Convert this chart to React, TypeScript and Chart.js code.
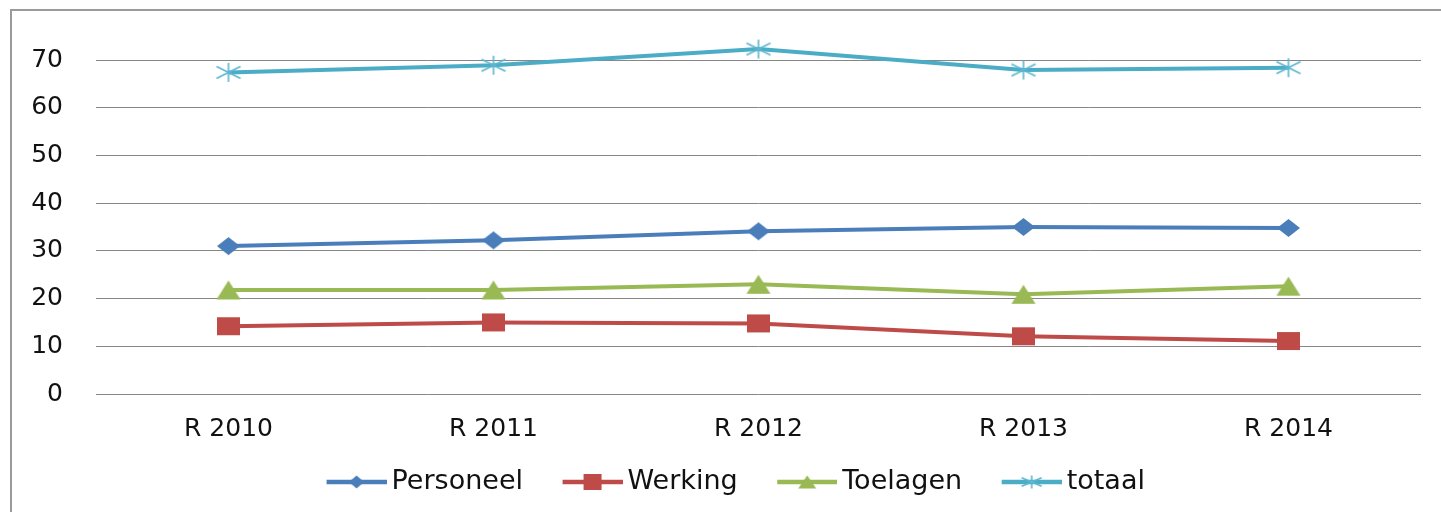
import React, { useEffect, useRef } from 'react';
import { Chart, registerables } from 'chart.js';

Chart.register(...registerables);

const categories = ['R 2010', 'R 2011', 'R 2012', 'R 2013', 'R 2014'];
const personeel = [31.0, 32.2, 34.1, 35.0, 34.8];
const werking = [14.2, 15.0, 14.8, 12.1, 11.1];
const toelagen = [21.8, 21.8, 23.0, 20.9, 22.6];
const totaal = [67.4, 68.9, 72.3, 67.9, 68.4];
const yTickValues = [0, 10, 20, 30, 40, 50, 60, 70];
const seriesNames = ['Personeel', 'Werking', 'Toelagen', 'totaal'];

const FONT = '"DejaVu Sans", "Liberation Sans", Arial, sans-serif';

type Kind = 'diamond' | 'square' | 'triangle' | 'asterisk';

function drawShape(ctx: CanvasRenderingContext2D, kind: Kind, color: string, cx: number, cy: number, w: number, h: number) {
  const x = cx - w / 2;
  const y = cy - h / 2;
  ctx.fillStyle = color;
  ctx.strokeStyle = color;
  ctx.beginPath();
  if (kind === 'diamond') {
    ctx.moveTo(x, cy);
    ctx.lineTo(cx, y);
    ctx.lineTo(x + w, cy);
    ctx.lineTo(cx, y + h);
    ctx.closePath();
    ctx.fill();
  } else if (kind === 'square') {
    ctx.rect(x, y, w, h);
    ctx.fill();
  } else if (kind === 'triangle') {
    ctx.moveTo(cx, y);
    ctx.lineTo(x + w, y + h);
    ctx.lineTo(x, y + h);
    ctx.closePath();
    ctx.fill();
  } else {
    ctx.lineWidth = 1.6;
    ctx.moveTo(cx, y);
    ctx.lineTo(cx, y + h);
    ctx.moveTo(x, y + h * 0.18);
    ctx.lineTo(x + w, y + h * 0.82);
    ctx.moveTo(x, y + h * 0.82);
    ctx.lineTo(x + w, y + h * 0.18);
    ctx.stroke();
  }
}

function markerCanvas(kind: Kind, color: string, w: number, h: number) {
  const c = document.createElement('canvas');
  c.width = Math.ceil(w) + 2;
  c.height = Math.ceil(h) + 2;
  const ctx = c.getContext('2d')!;
  drawShape(ctx, kind, color, c.width / 2, c.height / 2, w, h);
  return c;
}

// legend icon: transparent left margin (item spacing) + 60px line with marker
const LEGEND_ICON_W = 98;
const LEGEND_LINE_START = 38;
function legendCanvas(kind: Kind, color: string, markColor: string, w: number, h: number) {
  const c = document.createElement('canvas');
  c.width = LEGEND_ICON_W;
  c.height = 22;
  const ctx = c.getContext('2d')!;
  ctx.strokeStyle = color;
  ctx.lineWidth = 4.5;
  ctx.beginPath();
  ctx.moveTo(LEGEND_LINE_START, 11);
  ctx.lineTo(LEGEND_ICON_W, 11);
  ctx.stroke();
  drawShape(ctx, kind, markColor, (LEGEND_LINE_START + LEGEND_ICON_W) / 2, 11, w, h);
  return c;
}

const frame = {
  id: 'frame',
  beforeDraw(chart: any) {
    const ctx = chart.ctx;
    ctx.save();
    ctx.fillStyle = '#ffffff';
    ctx.fillRect(0, 0, chart.width, chart.height);
    ctx.strokeStyle = '#9a9a9a';
    ctx.lineWidth = 2;
    ctx.strokeRect(11, 10, chart.width + 40, chart.height + 40);
    ctx.restore();
  },
};

export default function App() {
  const ref = useRef<HTMLCanvasElement>(null);

  useEffect(() => {
    document.body.style.margin = '0';
    const colors = ['#4A7EBB', '#BE4B48', '#98B954', '#4BACC6'];
    const markColors = ['#4A7EBB', '#BE4B48', '#98B954', '#5BB6D0'];
    const kinds: Kind[] = ['diamond', 'square', 'triangle', 'asterisk'];
    const sizes: [number, number][] = [[23, 18], [23, 18], [24, 19], [24, 19]];
    const legendSizes: [number, number][] = [[15, 13], [18, 16], [18, 13], [20, 13]];
    const values = [personeel, werking, toelagen, totaal];

    const pointImgs = kinds.map((k, i) => markerCanvas(k, markColors[i], sizes[i][0], sizes[i][1]));
    const legendImgs = kinds.map((k, i) => legendCanvas(k, colors[i], markColors[i], legendSizes[i][0], legendSizes[i][1]));

    const chart = new Chart(ref.current!, {
      type: 'line',
      data: {
        labels: categories,
        datasets: seriesNames.map((name, i) => ({
          label: name,
          data: values[i],
          borderColor: colors[i],
          backgroundColor: colors[i],
          borderWidth: 4,
          pointStyle: pointImgs[i] as any,
          pointRadius: 16,
          pointHoverRadius: 16,
          tension: 0,
          fill: false,
          clip: false as any,
        })),
      },
      options: {
        responsive: false,
        animation: false,
        events: [],
        layout: { padding: { left: 19, right: 18, top: 60, bottom: 6.5 } },
        plugins: {
          tooltip: { enabled: false },
          legend: {
            position: 'bottom',
            labels: {
              usePointStyle: true,
              pointStyleWidth: 81,
              padding: 10,
              color: '#111111',
              font: { family: FONT, size: 27 },
              generateLabels: (c: any) => {
                const items = Chart.defaults.plugins.legend.labels.generateLabels(c);
                return items.map((it: any, i: number) => ({ ...it, pointStyle: legendImgs[i] }));
              },
            },
          },
        },
        scales: {
          x: {
            type: 'category',
            offset: true,
            grid: { display: false, drawTicks: false },
            border: { display: false },
            ticks: { color: '#111111', font: { family: FONT, size: 25 }, padding: 20, maxRotation: 0 },
            afterFit: (s: any) => { s.height = 64.5; },
          },
          y: {
            min: 0,
            max: 70,
            grid: { color: '#868686', lineWidth: 1, drawTicks: false },
            border: { display: false },
            ticks: { color: '#111111', font: { family: FONT, size: 25 }, padding: 33 },
            afterBuildTicks: (s: any) => { s.ticks = yTickValues.map((v) => ({ value: v })); },
            afterFit: (s: any) => { s.width = 77; },
          },
        },
      },
      plugins: [frame],
    });
    return () => chart.destroy();
  }, []);

  return (
    <div style={{ width: 1441, height: 512, overflow: 'hidden' }}>
      <canvas ref={ref} width={1441} height={512} style={{ display: 'block' }} />
    </div>
  );
}
